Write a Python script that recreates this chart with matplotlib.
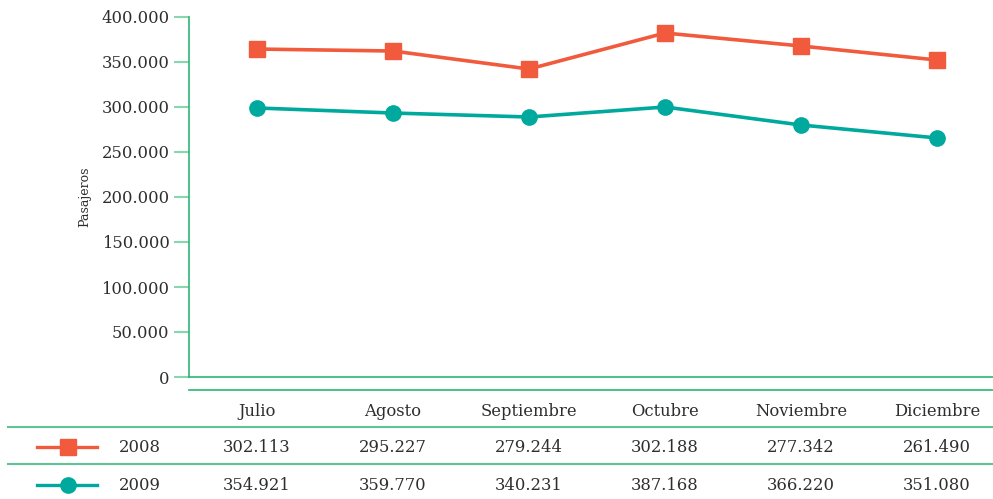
import matplotlib
matplotlib.use("Agg")
import matplotlib.pyplot as plt
from matplotlib.lines import Line2D
from matplotlib import transforms
from matplotlib.ticker import FuncFormatter

# Datos
meses = ["Julio", "Agosto", "Septiembre", "Octubre", "Noviembre", "Diciembre"]
serie_roja = [364400, 362200, 342200, 382200, 367800, 352200]
serie_verde = [298900, 293300, 288900, 300000, 280000, 265600]
tabla_2008 = ["302.113", "295.227", "279.244", "302.188", "277.342", "261.490"]
tabla_2009 = ["354.921", "359.770", "340.231", "387.168", "366.220", "351.080"]
anios = ["2008", "2009"]

rojo = "#f15a3c"
verde = "#00a99d"
eje = "#2bb673"
tick_c = "#86d6ae"
linea_tabla = "#5fc394"
texto = "#2e2e2e"

W, H = 993, 499
fig = plt.figure(figsize=(W / 100, H / 100), dpi=100)
plt.rcParams['font.family'] = ['DejaVu Serif']
fs = 11.8

ax = fig.add_axes([189 / W, 1 - 377 / H, (W - 189) / W, 360 / H])
x = list(range(len(meses)))
ax.plot(x, serie_roja, color=rojo, lw=2.6, marker="s", ms=11.5, clip_on=False)
ax.plot(x, serie_verde, color=verde, lw=2.6, marker="o", ms=11, clip_on=False)

ax.set_xlim(-0.5, (W - 257) / 136)
ax.set_ylim(0, 400000)
ax.set_yticks(range(0, 400001, 50000))
ax.yaxis.set_major_formatter(FuncFormatter(lambda v, p: f"{int(v):,}".replace(",", ".")))
ax.set_xticks([])
for s in ["top", "right"]:
    ax.spines[s].set_visible(False)
ax.spines["left"].set_color(eje)
ax.spines["bottom"].set_color(eje)
ax.spines["left"].set_linewidth(1.2)
ax.spines["bottom"].set_linewidth(1.2)
ax.tick_params(axis="y", length=11, width=1.5, color=tick_c, labelsize=fs,
               labelcolor=texto, pad=3)

fig.text(85 / W, 1 - 197 / H, "Pasajeros", rotation=90, ha="center", va="center",
         fontsize=9, color=texto)

# Tabla inferior
tr = transforms.blended_transform_factory(ax.transData, fig.transFigure)
for i, m in enumerate(meses):
    fig.text(i, 1 - 411 / H, m, transform=tr, ha="center", va="center",
             fontsize=fs, color=texto)
    fig.text(i, 1 - 447 / H, tabla_2008[i], transform=tr, ha="center", va="center",
             fontsize=fs, color=texto)
    fig.text(i, 1 - 485 / H, tabla_2009[i], transform=tr, ha="center", va="center",
             fontsize=fs, color=texto)

fig.add_artist(Line2D([189 / W, 1], [1 - 390 / H] * 2, color=eje, lw=1.2))
fig.add_artist(Line2D([8 / W, 1], [1 - 427 / H] * 2, color=linea_tabla, lw=1.5))
fig.add_artist(Line2D([8 / W, 1], [1 - 464 / H] * 2, color=linea_tabla, lw=1.5))

for y, c, mk, lab in [(447, rojo, "s", anios[0]), (485, verde, "o", anios[1])]:
    yy = 1 - y / H
    fig.add_artist(Line2D([37 / W, 97 / W], [yy, yy], color=c, lw=2.4))
    fig.add_artist(Line2D([68 / W], [yy], color=c, marker=mk, ms=11, lw=0))
    fig.text(119 / W, yy, lab, ha="left", va="center", fontsize=fs, color=texto)

fig.savefig("out.png", dpi=100)
